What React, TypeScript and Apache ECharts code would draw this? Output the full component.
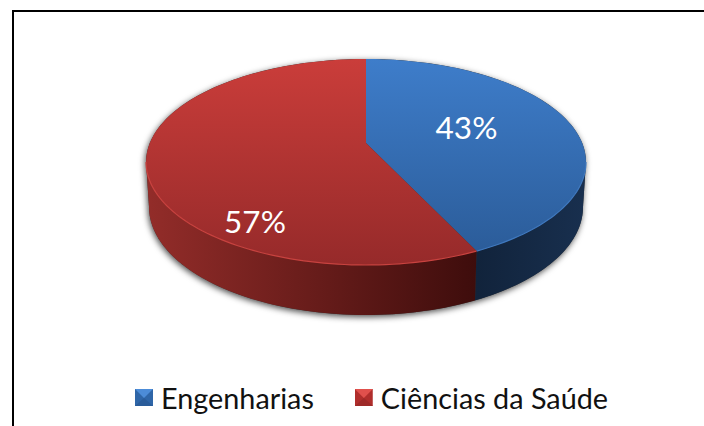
import React, { useEffect, useRef } from "react";
import * as echarts from "echarts";

const categories = ["Engenharias", "Ciências da Saúde"];
const shares = [43, 57];
const percentLabels = ["43%", "57%"];

const TOP_STOPS = [
  ["#3E7DCA", "#2A5A96"],
  ["#CA3D3A", "#962A2A"],
];
const SIDE_STOPS = [
  ["#182F4E", "#11233B"],
  ["#922C29", "#3E0D0C"],
];
const RIM = ["#3F78BE", "#C8423F"];
const ICONS = [
  ["#2F66A8", "#4C8CD8", "#2A5C9A"],
  ["#B02E2C", "#E0504C", "#9E2A28"],
];

const CX = 366;
const APEX_Y = 143;
const A = 99.5;
const B = 216.2;
const K = 0.1845;
const LABEL_OFFSETS = [
  [100.5, -16],
  [-111, 78],
];

const top = (deg: number, r = 1) => {
  const t = (deg * Math.PI) / 180;
  const u = r * Math.sin(t);
  const v = -r * Math.cos(t);
  const d = 1 - K * v;
  return [CX + (B * u) / d, APEX_Y + (A * v) / d];
};
const bottom = (deg: number) => {
  const [x, y] = top(deg);
  return [CX + ((x - CX) * 217) / 220, 207 + ((y - 162) * 108) / 103];
};
const arc = (a: number, b: number, f: (d: number) => number[]) => {
  const pts: number[][] = [];
  const n = Math.max(2, Math.ceil(Math.abs(b - a) / 1.5));
  for (let i = 0; i <= n; i++) pts.push(f(a + ((b - a) * i) / n));
  return pts;
};
const silhouette = (Math.acos(-K) * 180) / Math.PI;

const total = shares.reduce((s, v) => s + v, 0);

const makeRender = (idx: number) => (_: any, api: any) => {
  const before = shares.slice(0, idx).reduce((s, v) => s + v, 0);
  const a = (before / total) * 360;
  const b = a + (api.value(0) / total) * 360;
  const children: any[] = [];
  if (idx === 0) {
    children.push({
      type: "polygon",
      silent: true,
      shape: { points: arc(silhouette, 360 - silhouette, bottom).concat(arc(360 - silhouette, 360 + silhouette, top)) },
      style: { fill: "#333", shadowBlur: 6, shadowColor: "rgba(0,0,0,0.7)", shadowOffsetY: 2, shadowOffsetX: -1 },
    });
  }
  const sa = Math.max(a, silhouette);
  const sb = Math.min(b, 360 - silhouette);
  if (sb > sa) {
    children.push({
      type: "polygon",
      silent: true,
      shape: { points: arc(sa, sb, top).concat(arc(sb, sa, bottom)) },
      style: {
        fill: new echarts.graphic.LinearGradient(
          idx === 0 ? 476 : 150, 0, idx === 0 ? 583 : 476, 0,
          idx === 0
            ? [{ offset: 0, color: SIDE_STOPS[0][1] }, { offset: 1, color: SIDE_STOPS[0][0] }]
            : [{ offset: 0, color: SIDE_STOPS[1][0] }, { offset: 1, color: SIDE_STOPS[1][1] }],
          true as any
        ),
      },
    });
  }
  children.push({
    type: "polygon",
    silent: true,
    shape: { points: [top(a, 0) as number[]].concat(arc(a, b, top)) },
    style: {
      fill: new echarts.graphic.LinearGradient(0, 59, 0, 265, [
        { offset: 0, color: TOP_STOPS[idx][0] },
        { offset: 1, color: TOP_STOPS[idx][1] },
      ], true as any),
    },
  });
  if (sb > sa) {
    children.push({
      type: "polyline",
      silent: true,
      shape: { points: arc(sa, sb, top) },
      style: { stroke: RIM[idx], lineWidth: 1.2, fill: "none" },
    });
  }
  children.push({
    type: "text",
    silent: true,
    style: {
      text: percentLabels[idx],
      x: CX + LABEL_OFFSETS[idx][0],
      y: APEX_Y + LABEL_OFFSETS[idx][1],
      fill: "#fff",
      fontFamily: "Lato",
      fontSize: 31.5,
      align: "center",
      verticalAlign: "middle",
    },
  });
  return { type: "group", children };
};

const icon = (c: string[]) =>
  "image://data:image/svg+xml;charset=utf-8," +
  encodeURIComponent(
    `<svg xmlns="http://www.w3.org/2000/svg" width="18" height="17"><rect width="18" height="17" fill="${c[0]}"/><polygon points="0,0 18,0 9,9" fill="${c[1]}"/><polygon points="0,17 18,17 9,9" fill="${c[2]}"/></svg>`
  );

export default function App() {
  const ref = useRef<HTMLDivElement>(null);
  useEffect(() => {
    const chart = echarts.init(ref.current!, undefined, { renderer: "svg" });
    chart.setOption({
      animation: false,
      backgroundColor: "#fff",
      legend: {
        left: 135,
        top: 383,
        padding: 0,
        itemWidth: 18,
        itemHeight: 17,
        itemGap: 41,
        selectedMode: false,
        textStyle: { fontFamily: "Lato", fontSize: 28.8, color: "#111", padding: [0, 0, 0, 3] },
        data: categories.map((name, i) => ({ name, icon: icon(ICONS[i]) })),
      },
      graphic: [
        { type: "rect", z: 100, shape: { x: 12, y: 10, width: 692, height: 2 }, style: { fill: "#000" } },
        { type: "rect", z: 100, shape: { x: 12, y: 10, width: 2, height: 416 }, style: { fill: "#000" } },
      ],
      series: categories.map((name, i) => ({
        type: "custom",
        name,
        coordinateSystem: "none",
        renderItem: makeRender(i),
        data: [{ name, value: [shares[i]] }],
        itemStyle: { color: TOP_STOPS[i][0] },
      })),
    });
    return () => chart.dispose();
  }, []);
  return <div ref={ref} style={{ position: "absolute", left: 0, top: 0, width: 704, height: 426 }} />;
}
